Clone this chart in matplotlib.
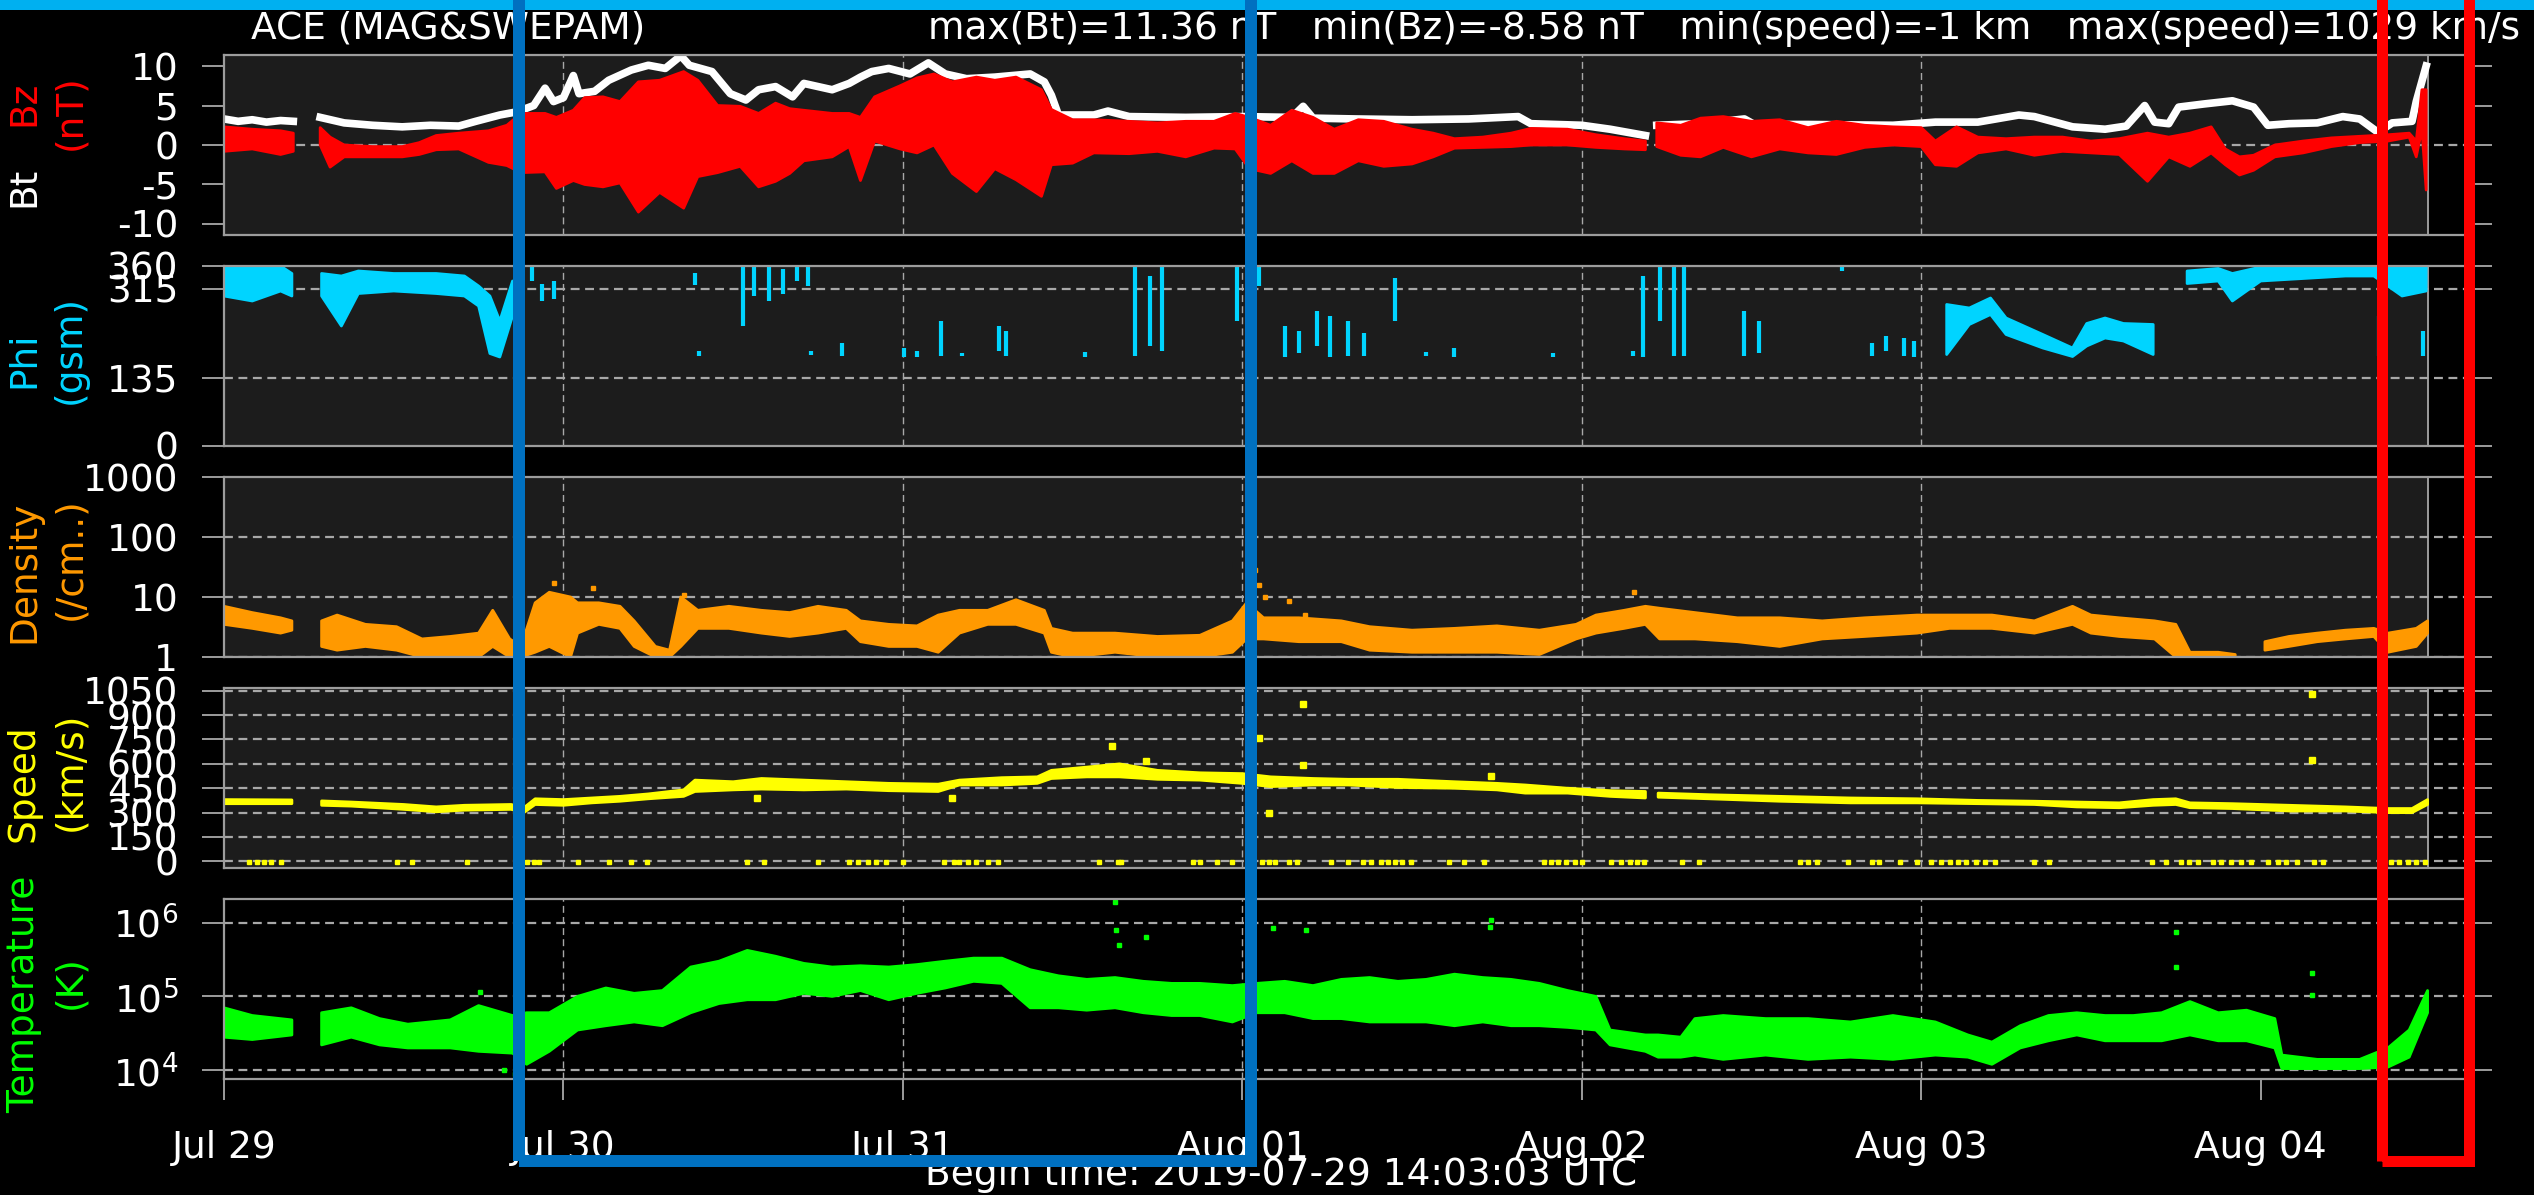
#!/usr/bin/env python3
import numpy as np
import matplotlib
matplotlib.use("Agg")
import matplotlib.pyplot as plt
from matplotlib.patches import Rectangle
from matplotlib.ticker import NullLocator

plt.rcParams['font.family'] = ['DejaVu Sans']
plt.rcParams['axes.unicode_minus'] = False
plt.rcParams['mathtext.fontset'] = 'dejavusans'
plt.rcParams['mathtext.default'] = 'regular'

nan = np.nan

# time axis: hours since Jul 29 00:00
day_ticks = [0, 24, 48, 72, 96, 120, 144]
day_labels = ['Jul 29', 'Jul 30', 'Jul 31', 'Aug 01', 'Aug 02', 'Aug 03', 'Aug 04']
grid_days = [24, 48, 72, 96, 120]
t_end = 155.8
x_max = 158.8

# Bt (nT)
bt_t = [0, 1, 2, 3, 4, 4.9, 5.5, 6.8, 8.5, 10.5,
        12.6, 14.6, 16.6, 17.8, 19.5, 20.7, 21.9, 22.7, 23.3, 24.0,
        24.7, 25.1, 26.2, 27.2, 28.8, 30.0, 31.2, 32.3, 32.9, 34.5,
        35.8, 36.9, 37.8, 39.0, 40.2, 41.0, 43.0, 44.2, 45.0, 45.8,
        47.0, 48.5, 49.8, 51.0, 52.5, 54.5, 57.0, 58.0, 58.5, 59.0,
        61.5, 62.5, 64, 68, 72, 75.5, 76.3, 77, 80, 84,
        88, 91.5, 92.4, 96, 98, 100.5, 100.9, 101.3, 104.4, 107.5,
        108.2, 112, 118, 121, 124, 126.9, 128, 130.7, 133, 134.5,
        135.8, 136.5, 137.5, 138.2, 140, 142, 143.5, 144.5, 146, 148,
        149.8, 151, 152.3, 153.3, 154.7, 155.0, 155.7]
bt_v = [3.3, 3.0, 3.2, 2.9, 3.1, 3.0, nan, 3.5, 2.8, 2.5,
        2.3, 2.5, 2.4, 3.0, 3.8, 4.2, 5.0, 7.2, 5.5, 6.0,
        8.8, 6.5, 6.8, 8.2, 9.5, 10.1, 9.7, 11.3, 10.1, 9.3,
        6.5, 5.7, 7.0, 7.4, 6.1, 7.8, 7.0, 7.8, 8.6, 9.3,
        9.7, 9.0, 10.4, 9.0, 8.4, 8.6, 9.0, 8.0, 6.3, 3.8,
        3.8, 4.3, 3.6, 3.5, 3.6, 3.5, 4.9, 3.4, 3.3, 3.2,
        3.3, 3.6, 2.7, 2.5, 2.0, 1.2, nan, 2.5, 2.7, 3.3,
        2.6, 2.6, 2.5, 2.9, 2.9, 3.8, 3.6, 2.3, 2.0, 2.4,
        5.0, 2.9, 2.7, 4.8, 5.2, 5.6, 4.8, 2.5, 2.7, 2.8,
        3.6, 3.3, 1.6, 2.8, 3.0, 5.5, 10.0]

# Bz (nT): lower / upper edge of the scatter
bz_t = [0, 2, 4, 4.9, 5.5, 6.8, 7.5, 8.5, 10.5, 12.6,
        13.8, 15, 16.6, 18.7, 20, 21, 22.7, 23.5, 24.7, 25.5,
        26.8, 28, 29.3, 30.8, 32.5, 33.5, 34.9, 36.5, 37.8, 39,
        40, 41, 43, 44.2, 45, 46, 47.8, 49, 50.2, 51.5,
        53.2, 54.5, 56, 57.8, 58.5, 60, 61.5, 64, 66, 68,
        70, 71.5, 72.5, 74, 75.5, 77, 78.5, 80.2, 82, 84,
        85.5, 87, 89, 91, 92.4, 95, 97, 99, 100.5, 100.9,
        101.3, 103, 104.4, 106, 108, 110, 112, 114, 116, 118,
        120, 121, 122.5, 124, 126, 128, 130, 132, 134, 136,
        137.5, 139, 140.5, 141.5, 142.5, 143.5, 145, 147, 149, 151,
        153, 154.5, 155.0, 155.4, 155.7]
bz_lo = [-0.8, -0.5, -1.2, -0.8, nan, 0.0, -2.8, -1.5, -1.5, -1.5,
         -1.2, -0.6, -0.5, -2.2, -2.6, -3.5, -3.4, -5.5, -4.5, -5.0,
         -5.3, -4.8, -8.5, -6.0, -8.0, -4.0, -3.5, -2.7, -5.3, -4.6,
         -3.6, -2.0, -1.5, -0.2, -4.5, 0.5, -0.5, -1.0, 0.0, -3.6,
         -5.9, -3.0, -4.4, -6.5, -2.5, -2.3, -1.0, -1.1, -0.8, -1.5,
         -0.4, -0.5, -3.0, -3.6, -2.0, -3.6, -3.6, -2.0, -2.7, -2.4,
         -1.5, -0.4, -0.3, -0.2, 0.0, 0.0, -0.3, -0.5, -0.6, nan,
         -0.2, -1.3, -1.5, -0.3, -1.5, -0.5, -1.0, -1.2, -0.3, 0.0,
         -0.2, -2.5, -2.7, -1.0, -0.5, -1.3, -0.8, -1.0, -1.2, -4.6,
         -1.5, -2.7, -1.0, -2.5, -3.8, -3.2, -1.5, -1.0, -0.2, 0.3,
         0.5, 1.0, -1.5, 2.0, -5.7]
bz_hi = [2.3, 2.0, 1.8, 1.5, nan, 2.2, 1.0, 0.0, -0.2, -0.2,
         0.3, 1.2, 1.5, 1.8, 2.5, 4.0, 4.0, 3.5, 4.4, 6.0,
         6.1, 5.5, 8.0, 8.2, 9.3, 8.2, 5.0, 4.9, 4.0, 5.3,
         4.6, 4.4, 4.0, 4.0, 3.5, 6.1, 7.5, 8.5, 9.0, 8.0,
         8.6, 8.2, 8.6, 7.0, 4.5, 3.2, 3.2, 3.0, 2.8, 3.0,
         3.0, 4.0, 3.5, 2.5, 4.4, 3.5, 2.0, 3.2, 3.0, 2.0,
         1.5, 0.8, 1.0, 1.5, 2.1, 2.0, 1.3, 0.8, 0.5, nan,
         2.8, 2.5, 3.4, 3.6, 3.0, 3.2, 2.2, 3.0, 2.5, 2.3,
         2.2, 0.5, 2.3, 1.0, 0.8, 1.0, 1.0, 0.5, 0.8, 1.5,
         1.0, 1.5, 2.3, -0.5, -1.5, -1.3, 0.0, 0.5, 0.9, 1.1,
         1.3, 1.5, 0.5, 7.0, 7.0]

# Phi (deg, gsm): continuous stretches
phi_t = [0, 2, 4, 4.8, 5.5, 6.9, 8.3, 9.5, 12, 15,
         17, 18, 18.8, 19.5, 20.4, 21.0, 121.8, 123.4, 124.9, 126.0,
         128.6, 130.7, 131.7, 133.0, 134.3, 136.4, 137.5, 138.8, 141, 142,
         144, 147, 150, 152, 154, 155.7]
phi_lo = [300, 290, 310, 300, nan, 300, 240, 305, 310, 305,
          300, 280, 185, 178, 260, nan, 183, 243, 263, 223,
          196, 179, 200, 216, 210, 183, nan, 325, 330, 290,
          330, 335, 340, 340, 300, 310]
phi_hi = [360, 360, 360, 345, nan, 345, 340, 350, 345, 345,
          340, 320, 300, 250, 330, nan, 283, 276, 296, 256,
          223, 196, 245, 256, 245, 243, nan, 350, 355, 345,
          358, 360, 360, 360, 360, 360]
# Phi: isolated clusters
phi_pt_t = [21.8, 22.5, 23.3, 33.3, 33.6, 36.7, 37.5, 38.5, 39.5, 40.5,
            41.3, 41.5, 43.7, 48.1, 49.0, 50.7, 52.2, 54.8, 55.3, 60.9,
            64.4, 65.5, 66.3, 71.6, 73.2, 75.0, 76.0, 77.3, 78.2, 79.5,
            80.6, 82.8, 85.0, 87.0, 94.0, 99.6, 100.3, 101.5, 102.5, 103.2,
            107.5, 108.5, 114.4, 116.5, 117.5, 118.8, 119.5, 152.4, 155.5]
phi_pt_lo = [330, 290, 295, 322, 180, 240, 300, 290, 305, 330,
             320, 182, 180, 178, 178, 180, 180, 190, 180, 178,
             180, 200, 190, 250, 320, 178, 185, 200, 178, 180,
             180, 250, 180, 178, 178, 180, 178, 250, 180, 180,
             180, 185, 350, 180, 190, 180, 178, 180, 180]
phi_pt_hi = [360, 325, 330, 346, 190, 360, 360, 360, 355, 360,
             358, 190, 205, 195, 190, 250, 185, 240, 230, 188,
             360, 340, 360, 360, 360, 240, 230, 270, 260, 250,
             225, 336, 188, 195, 185, 190, 340, 360, 360, 360,
             270, 250, 360, 205, 220, 215, 210, 260, 230]

# Density (/cm3)
dn_t = [0, 2, 4, 4.8, 5.5, 6.9, 8, 10, 12.2, 14,
        16, 18, 19, 20.2, 21, 22, 23, 24.5, 25, 26.5,
        28, 29, 30.5, 31.5, 32.3, 33.5, 35.7, 38, 40, 42,
        44, 45, 47, 49, 50.5, 52, 54, 56, 58, 58.5,
        60, 63, 66, 69, 71.3, 72.3, 73.5, 76, 79, 81,
        84, 87, 90, 93, 95.6, 97, 99, 100.5, 101.5, 104,
        107, 110, 113, 116, 119.7, 122, 125, 128, 130.7, 132,
        134, 136.5, 138, 139, 141, 142.2, 143.3, 144.3, 146, 148,
        150, 152, 153, 155, 155.8]
dn_lo = [3.5, 3.0, 2.5, 2.8, nan, 1.5, 1.3, 1.5, 1.3, 1.0,
         1.0, 1.0, 1.5, 1.0, 1.0, 1.2, 1.5, 1.0, 2.5, 3.5,
         3.0, 1.5, 1.0, 1.0, 1.5, 3.0, 3.0, 2.5, 2.2, 2.5,
         3.0, 1.8, 1.5, 1.5, 1.2, 2.5, 3.5, 3.5, 2.5, 1.2,
         1.0, 1.2, 1.0, 1.0, 1.2, 2.0, 2.0, 1.8, 1.8, 1.3,
         1.2, 1.2, 1.2, 1.1, 2.0, 2.5, 3.0, 3.5, 2.0, 2.0,
         1.8, 1.5, 2.0, 2.2, 2.5, 3.0, 3.0, 2.5, 3.5, 2.5,
         2.2, 2.0, 1.0, 1.0, 1.0, 1.0, nan, 1.3, 1.5, 1.8,
         2.0, 2.2, 1.2, 1.5, 2.5]
dn_hi = [7.0, 5.5, 4.5, 4.0, nan, 4.0, 5.0, 3.5, 3.2, 2.0,
         2.2, 2.5, 6.0, 2.0, 1.5, 8.0, 12.0, 10.0, 8.0, 8.0,
         7.0, 4.0, 1.5, 1.3, 10.0, 6.0, 7.0, 6.0, 5.5, 7.0,
         6.0, 4.0, 3.5, 3.3, 5.0, 6.0, 6.0, 9.0, 6.0, 3.0,
         2.5, 2.5, 2.2, 2.3, 4.0, 8.0, 4.5, 4.5, 4.0, 3.2,
         2.8, 3.0, 3.3, 2.8, 3.5, 5.0, 6.0, 7.0, 6.5, 5.5,
         4.5, 4.5, 4.0, 4.5, 5.0, 5.0, 5.0, 4.0, 7.0, 5.0,
         4.5, 4.0, 3.5, 1.2, 1.2, 1.1, nan, 1.8, 2.2, 2.5,
         2.8, 3.0, 2.5, 3.0, 4.0]
dn_pt_t = [23.3, 26.1, 32.5, 72.6, 72.9, 73.2, 73.6, 75.3, 76.4, 99.7]
dn_pt_v = [17, 14, 11, 50, 28, 16, 10, 8.5, 5.0, 12]

# Speed (km/s)
sp_t = [0, 4.8, 5.5, 6.9, 9, 12.7, 15, 17, 20.3, 21.2,
        22, 24, 26, 28, 30, 32.5, 33.3, 36, 38, 41,
        44, 47, 50.5, 52, 55, 57.5, 58.5, 61, 63.3, 66,
        69, 72, 74, 77, 79.5, 83, 87, 90, 92, 95,
        98, 100.5, 100.9, 101.4, 105, 110, 115, 119.7, 124, 128,
        131, 134, 136.4, 138, 139, 142, 146, 150, 153, 154.7,
        155.8]
sp_lo = [355, 355, nan, 345, 340, 320, 305, 315, 320, 300,
         350, 345, 360, 370, 385, 400, 430, 440, 445, 440,
         445, 435, 430, 470, 470, 480, 510, 520, 520, 505,
         500, 480, 460, 470, 470, 455, 450, 440, 420, 420,
         400, 390, nan, 395, 385, 370, 360, 360, 355, 350,
         335, 330, 345, 350, 330, 325, 310, 310, 300, 300,
         350]
sp_hi = [380, 378, nan, 372, 365, 350, 335, 345, 350, 330,
         385, 380, 390, 400, 415, 440, 500, 490, 510, 500,
         490, 480, 475, 500, 515, 520, 560, 580, 600, 560,
         545, 540, 520, 510, 505, 505, 490, 480, 470, 450,
         435, 430, nan, 420, 410, 400, 390, 385, 375, 370,
         365, 360, 380, 385, 360, 355, 345, 335, 325, 325,
         380]
sp_pt_t = [37.7, 51.5, 62.8, 65.2, 73.2, 73.9, 76.3, 76.3, 89.6, 147.6, 147.6]
sp_pt_v = [391, 391, 710, 618, 762, 299, 968, 596, 525, 1029, 624]
# samples flagged at -1 km/s
sp_flag_v = -1
sp_flag_t = [1.8, 2.3, 2.8, 3.3, 4.0, 12.2, 13.3, 17.2, 21.4, 21.9,
             22.3, 25.0, 27.2, 28.8, 29.9, 37.0, 38.2, 42.0, 44.2, 44.8,
             45.5, 46.1, 46.8, 48.0, 50.9, 51.6, 52.0, 52.6, 53.2, 54.0,
             54.7, 61.9, 63.2, 63.4, 68.5, 69.0, 70.2, 71.3, 73.4, 73.9,
             74.3, 75.3, 75.9, 78.3, 79.5, 80.5, 81.1, 81.8, 82.3, 82.8,
             83.3, 83.9, 86.6, 87.7, 89.1, 93.3, 93.8, 94.3, 94.9, 95.5,
             96.0, 98.1, 98.8, 99.4, 99.9, 100.4, 103.1, 104.3, 111.4, 112.0,
             112.6, 114.8, 116.5, 117.0, 118.5, 119.7, 120.7, 121.4, 122.0, 122.6,
             123.2, 123.9, 124.5, 125.2, 128.0, 129.0, 136.3, 137.3, 138.4, 138.9,
             139.6, 140.6, 141.2, 141.9, 142.6, 143.3, 144.5, 145.2, 145.8, 146.6,
             147.8, 148.4, 153.2, 153.8, 154.4, 155.0, 155.6]

# Temperature (K)
tp_t = [0, 2, 4.8, 5.5, 6.9, 9, 11, 13, 16, 18,
        20.4, 21.4, 23, 25, 27, 29, 31, 33, 35, 37,
        39, 41, 43, 45, 47, 49, 51, 53, 55, 57,
        59, 61, 63, 65, 67, 69, 71.3, 73, 75, 77,
        79, 81, 83, 85, 87, 89, 91, 93, 95, 97,
        98, 100.5, 101.4, 103, 104, 106, 109, 112, 115, 118,
        121, 123.3, 125, 127, 129, 131, 133, 135, 137, 139,
        141, 143, 145, 145.5, 148, 151, 153, 154.5, 155.8]
tp_lo = [28e3, 26e3, 30e3, nan, 22e3, 28e3, 22e3, 20e3, 20e3, 18e3,
         17e3, 12e3, 18e3, 35e3, 40e3, 45e3, 40e3, 60e3, 80e3, 90e3,
         90e3, 110e3, 100e3, 120e3, 90e3, 110e3, 130e3, 160e3, 150e3, 70e3,
         70e3, 65e3, 70e3, 60e3, 55e3, 55e3, 45e3, 60e3, 60e3, 50e3,
         50e3, 45e3, 45e3, 45e3, 40e3, 45e3, 40e3, 40e3, 38e3, 35e3,
         22e3, 18e3, 15e3, 15e3, 16e3, 14e3, 16e3, 14e3, 15e3, 14e3,
         16e3, 15e3, 12e3, 20e3, 25e3, 30e3, 25e3, 25e3, 25e3, 30e3,
         25e3, 25e3, 20e3, 10.5e3, 10.5e3, 10.5e3, 11e3, 15e3, 60e3]
tp_hi = [70e3, 55e3, 48e3, nan, 60e3, 70e3, 50e3, 42e3, 48e3, 75e3,
         55e3, 60e3, 60e3, 100e3, 130e3, 110e3, 120e3, 250e3, 300e3, 420e3,
         350e3, 280e3, 250e3, 260e3, 250e3, 270e3, 300e3, 330e3, 330e3, 230e3,
         190e3, 170e3, 180e3, 160e3, 150e3, 150e3, 140e3, 150e3, 160e3, 140e3,
         170e3, 180e3, 160e3, 170e3, 200e3, 180e3, 170e3, 150e3, 120e3, 100e3,
         35e3, 30e3, 30e3, 28e3, 50e3, 55e3, 50e3, 50e3, 45e3, 55e3,
         45e3, 30e3, 24e3, 40e3, 55e3, 60e3, 55e3, 55e3, 60e3, 85e3,
         60e3, 65e3, 50e3, 16e3, 14e3, 14e3, 20e3, 35e3, 120e3]
tp_pt_t = [18.1, 19.8, 20.6, 63.0, 63.1, 63.3, 65.2, 74.2, 76.5, 89.6, 89.5,
           138.0, 138.0, 147.6, 147.6]
tp_pt_v = [115e3, 10e3, 9e3, 1.9e6, 8e5, 5e5, 6.3e5, 8.5e5, 8e5, 1.1e6, 8.7e5,
           7.4e5, 2.5e5, 2.1e5, 1.05e5]

# colours
panel_bg = '#1c1c1c'
frame_col = '#9c9c9c'
grid_col = '#a8a8a8'
c_bt = 'white'
c_bz = '#ff0000'
c_phi = '#00d4ff'
c_dn = '#ff9900'
c_sp = '#ffff00'
c_tp = '#00ff00'

W, H = 2534, 1195
FS = 27


def fx(px):
    return px / W


def fy(py):
    return 1 - py / H


fig = plt.figure(figsize=(W / 100, H / 100), dpi=100, facecolor='black')


def make_panel(i, shade=True):
    top = 55 + 211 * i
    ax = fig.add_axes([fx(224), fy(top + 180), (2470 - 224) / W, 180 / H])
    ax.set_facecolor('black')
    ax.set_xlim(0, x_max)
    ax.set_xticks(day_ticks)
    ax.tick_params(axis='x', length=0, labelbottom=False)
    ax.tick_params(axis='y', which='major', direction='out', length=16, width=1.4,
                   color=frame_col, labelcolor='white', labelsize=FS,
                   left=True, right=True, pad=17)
    for sp in ax.spines.values():
        sp.set_color(frame_col)
        sp.set_linewidth(1.6)
    if shade:
        ax.add_patch(Rectangle((0, 0), t_end, 1, transform=ax.get_xaxis_transform(),
                               facecolor=panel_bg, edgecolor=frame_col, lw=1.4,
                               zorder=0.2))
    for d in grid_days:
        ax.axvline(d, color=grid_col, lw=1.0, ls=(0, (5, 3)), zorder=0.5)
    return ax


def hgrid(ax, vals):
    for v in vals:
        ax.axhline(v, color=grid_col, lw=1.6, ls=(0, (4, 2.5)), zorder=0.5)


def band(ax, t, lo, hi, color):
    ax.fill_between(t, lo, hi, color=color, lw=2.0, edgecolor=color, zorder=2)


# --- Bt / Bz ---
ax1 = make_panel(0)
ax1.set_ylim(-11.4, 11.4)
ax1.set_yticks([-10, -5, 0, 5, 10])
hgrid(ax1, [0])
ax1.plot(bt_t, bt_v, color=c_bt, lw=5.5, zorder=2)
band(ax1, bz_t, bz_lo, bz_hi, c_bz)

# --- Phi ---
ax2 = make_panel(1)
ax2.set_ylim(0, 360)
ax2.set_yticks([0, 135, 315, 360])
hgrid(ax2, [135, 315])
band(ax2, phi_t, phi_lo, phi_hi, c_phi)
ax2.vlines(phi_pt_t, phi_pt_lo, phi_pt_hi, color=c_phi, lw=3.0, zorder=2)

# --- Density ---
ax3 = make_panel(2)
ax3.set_yscale('log')
ax3.set_ylim(1, 1000)
ax3.set_yticks([1, 10, 100, 1000])
ax3.set_yticklabels(['1', '10', '100', '1000'])
ax3.yaxis.set_minor_locator(NullLocator())
hgrid(ax3, [1, 10, 100])
band(ax3, dn_t, dn_lo, dn_hi, c_dn)
ax3.plot(dn_pt_t, dn_pt_v, 's', color=c_dn, ms=3.5, zorder=2)

# --- Speed ---
ax4 = make_panel(3)
ax4.set_ylim(-41, 1067)
ax4.set_yticks([0, 150, 300, 450, 600, 750, 900, 1050])
hgrid(ax4, [0, 150, 300, 450, 600, 750, 900, 1050])
band(ax4, sp_t, sp_lo, sp_hi, c_sp)
ax4.plot(sp_pt_t, sp_pt_v, 's', color=c_sp, ms=4, zorder=2)
ax4.plot(sp_flag_t, np.full(len(sp_flag_t), sp_flag_v), 's', color=c_sp, ms=3.5, zorder=2)

# --- Temperature ---
ax5 = make_panel(4, shade=False)
ax5.set_yscale('log')
ax5.set_ylim(10 ** 3.88, 10 ** 6.32)
ax5.set_yticks([1e4, 1e5, 1e6])
ax5.set_yticklabels(['$10^{4}$', '$10^{5}$', '$10^{6}$'])
ax5.yaxis.set_minor_locator(NullLocator())
hgrid(ax5, [1e4, 1e5, 1e6])
band(ax5, tp_t, tp_lo, tp_hi, c_tp)
ax5.plot(tp_pt_t, tp_pt_v, 's', color=c_tp, ms=3.5, zorder=2)
ax5.tick_params(axis='x', length=15, width=1.4, color=frame_col, direction='out',
                labelbottom=True, labelsize=FS, labelcolor='white', pad=22)
ax5.set_xticklabels(day_labels)

# y labels
def ylab(x, y, s, color):
    fig.text(fx(x), fy(y), s, rotation=90, ha='center', va='center',
             fontsize=FS, color=color)


ylab(24, 187, 'Bt', c_bt)
ylab(24, 103, 'Bz', c_bz)
ylab(70, 112, '(nT)', c_bz)
ylab(24, 360, 'Phi', c_phi)
ylab(70, 350, '(gsm)', c_phi)
ylab(24, 572, 'Density', c_dn)
ylab(70, 559, '(/cm..)', c_dn)
ylab(24, 783, 'Speed', c_sp)
ylab(70, 771, '(km/s)', c_sp)
ylab(24, 994, 'Temperature', c_tp)
ylab(70, 982, '(K)', c_tp)

# header / footer text
fig.text(fx(448), fy(29), 'ACE (MAG&SWEPAM)', ha='center', va='center',
         fontsize=FS, color='white')
fig.text(fx(928), fy(29),
         'max(Bt)=11.36 nT   min(Bz)=-8.58 nT   min(speed)=-1 km   max(speed)=1029 km/s',
         ha='left', va='center', fontsize=FS, color='white')
fig.text(fx(1281), fy(1175), 'Begin time: 2019-07-29 14:03:03 UTC', ha='center',
         va='center', fontsize=FS, color='white')

# overlay marks
fig.add_artist(Rectangle((0, fy(10)), 1, 10 / H, transform=fig.transFigure,
                         facecolor='#00b0f0', edgecolor='none', zorder=5))
fig.add_artist(Rectangle((fx(519), fy(1161)), (1251 - 519) / W, (1161 + 40) / H,
                         transform=fig.transFigure, fill=False, edgecolor='#0070c0',
                         lw=12 * 0.72, zorder=6, clip_on=False))
fig.add_artist(Rectangle((fx(2381.5), fy(1161)), (2469 - 2381.5) / W, (1161 + 40) / H,
                         transform=fig.transFigure, fill=False, edgecolor='#ff0000',
                         lw=11 * 0.72, zorder=6, clip_on=False))

fig.savefig('out.png', dpi=100, facecolor='black')
